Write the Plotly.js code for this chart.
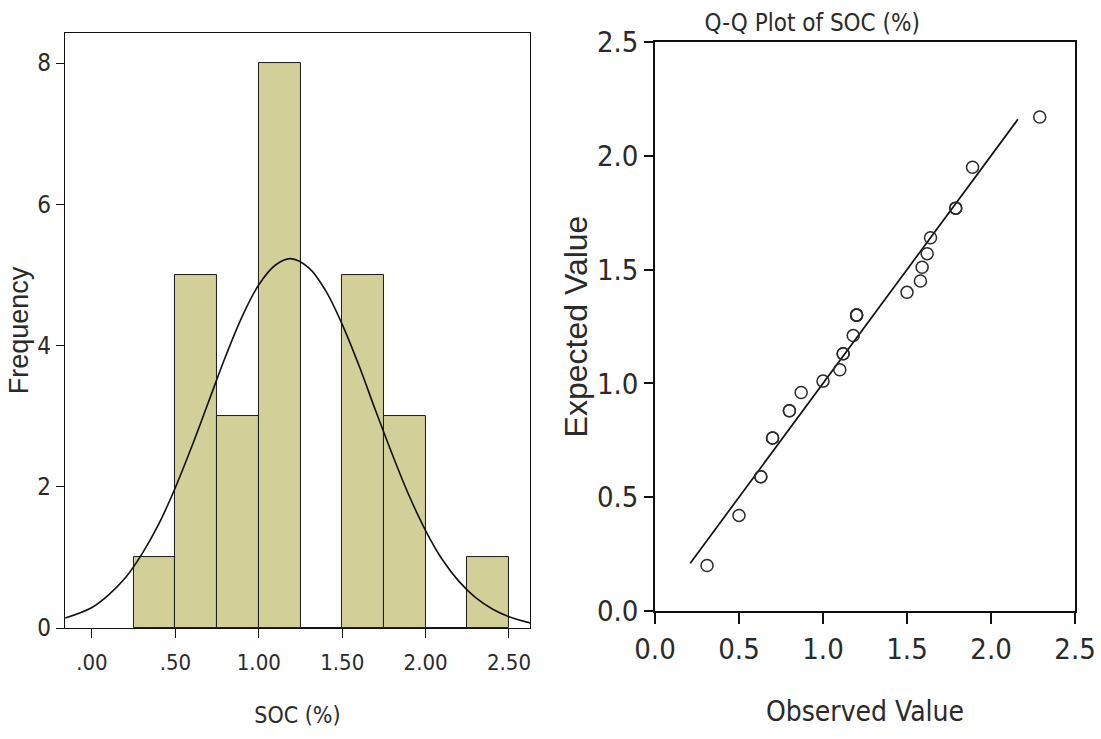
<!DOCTYPE html>
<html>
<head>
<meta charset="utf-8">
<script src="https://cdn.plot.ly/plotly-3.0.1.min.js"></script>
<style>
  html, body { margin: 0; padding: 0; background: #ffffff; }
  #chart { width: 1101px; height: 739px; }
</style>
</head>
<body>
<div id="chart"></div>
<script>
// ---- Histogram of SOC (%) ----
var binCenters = [0.375, 0.625, 0.875, 1.125, 1.375, 1.625, 1.875, 2.125, 2.375];
var binCounts  = [1, 5, 3, 8, 0, 5, 3, 0, 1];
var histTickVals = [0, 0.5, 1.0, 1.5, 2.0, 2.5];
var histTickText = ['.00', '.50', '1.00', '1.50', '2.00', '2.50'];
var freqTickVals = [0, 2, 4, 6, 8];

// Normal curve overlay
var curveX = [-0.16, 0.0, 0.1, 0.2, 0.3, 0.4, 0.5, 0.6, 0.7, 0.8, 0.9, 1.0, 1.1, 1.19, 1.3, 1.4, 1.5, 1.6, 1.7, 1.8, 1.9, 2.0, 2.1, 2.2, 2.3, 2.4, 2.5, 2.63];
var curveY = [0.14, 0.29, 0.47, 0.71, 1.05, 1.47, 1.99, 2.58, 3.21, 3.84, 4.41, 4.86, 5.14, 5.23, 5.10, 4.78, 4.30, 3.72, 3.08, 2.46, 1.88, 1.38, 0.97, 0.66, 0.43, 0.27, 0.16, 0.07];

// ---- Q-Q Plot of SOC (%) ----
var observed = [0.31, 0.50, 0.63, 0.63, 0.70, 0.70, 0.80, 0.80, 0.87, 1.00, 1.10, 1.12, 1.12, 1.18, 1.20, 1.20, 1.20, 1.50, 1.58, 1.59, 1.62, 1.64, 1.79, 1.79, 1.89, 2.29];
var expected = [0.20, 0.42, 0.59, 0.59, 0.76, 0.76, 0.88, 0.88, 0.96, 1.01, 1.06, 1.13, 1.13, 1.21, 1.30, 1.30, 1.30, 1.40, 1.45, 1.51, 1.57, 1.64, 1.77, 1.77, 1.95, 2.17];
var refLineX = [0.21, 2.16];
var refLineY = [0.21, 2.16];
var qqTickVals = [0, 0.5, 1.0, 1.5, 2.0, 2.5];

var narrow = '"Liberation Sans Narrow", "DejaVu Sans Condensed", "Liberation Sans", Arial, sans-serif';
var regular = '"Liberation Sans", Arial, sans-serif';
var ink = '#2a2a2a';

var traces = [
  {
    type: 'bar', x: binCenters, y: binCounts, width: 0.25,
    marker: { color: '#d3cf98', line: { color: '#1a1a1a', width: 1 } },
    xaxis: 'x', yaxis: 'y', hoverinfo: 'x+y'
  },
  {
    type: 'scatter', mode: 'lines', x: curveX, y: curveY,
    line: { color: '#111111', width: 1.6, shape: 'spline', smoothing: 1 },
    xaxis: 'x', yaxis: 'y'
  },
  {
    type: 'scatter', mode: 'lines', x: refLineX, y: refLineY,
    line: { color: '#111111', width: 1.7 },
    xaxis: 'x2', yaxis: 'y2'
  },
  {
    type: 'scatter', mode: 'markers', x: observed, y: expected,
    marker: { symbol: 'circle-open', size: 12, color: '#2a2a2a', line: { width: 1.5, color: '#2a2a2a' } },
    xaxis: 'x2', yaxis: 'y2'
  }
];

var layout = {
  width: 1101, height: 739,
  margin: { l: 0, r: 0, t: 0, b: 0 },
  paper_bgcolor: '#ffffff', plot_bgcolor: '#ffffff',
  showlegend: false,
  bargap: 0,
  title: {
    text: 'Q-Q Plot of SOC (%)',
    font: { family: narrow, size: 24, color: ink },
    x: 0.7377, xref: 'paper', xanchor: 'center',
    y: 0.970, yref: 'paper', yanchor: 'middle'
  },
  xaxis: {
    domain: [0.0590, 0.4814], range: [-0.162, 2.626],
    tickvals: histTickVals, ticktext: histTickText,
    ticks: 'outside', ticklen: 9, tickwidth: 1.2, tickcolor: '#111',
    ticklabelstandoff: 5,
    showline: true, linecolor: '#111', linewidth: 1.2, mirror: true,
    showgrid: false, zeroline: false,
    tickfont: { family: narrow, size: 22, color: ink },
    title: { text: 'SOC (%)', font: { family: narrow, size: 23, color: ink }, standoff: 33 },
    fixedrange: true
  },
  yaxis: {
    domain: [0.1502, 0.9553], range: [0, 8.425],
    tickvals: freqTickVals,
    ticks: 'outside', ticklen: 8, tickwidth: 1.2, tickcolor: '#111',
    showline: true, linecolor: '#111', linewidth: 1.2, mirror: true,
    showgrid: false, zeroline: false,
    tickfont: { family: narrow, size: 24, color: ink },
    title: { text: 'Frequency', font: { family: regular, size: 27, color: ink }, standoff: 0 },
    fixedrange: true
  },
  xaxis2: {
    domain: [0.5949, 0.9764], range: [0, 2.5], anchor: 'y2',
    tickvals: qqTickVals, tickformat: '.1f',
    ticks: 'outside', ticklen: 11, tickwidth: 1.5, tickcolor: '#111',
    showline: true, linecolor: '#111', linewidth: 2, mirror: true,
    showgrid: false, zeroline: false,
    tickfont: { family: narrow, size: 29, color: ink },
    title: { text: 'Observed Value', font: { family: narrow, size: 28, color: ink }, standoff: 37 },
    fixedrange: true
  },
  yaxis2: {
    domain: [0.1732, 0.9432], range: [0, 2.5], anchor: 'x2',
    tickvals: qqTickVals, tickformat: '.1f',
    ticks: 'outside', ticklen: 9, tickwidth: 1.5, tickcolor: '#111',
    showline: true, linecolor: '#111', linewidth: 1.6, mirror: true,
    showgrid: false, zeroline: false,
    tickfont: { family: narrow, size: 29, color: ink },
    title: { text: 'Expected Value', font: { family: regular, size: 32, color: ink }, standoff: 0 },
    fixedrange: true
  }
};

Plotly.newPlot('chart', traces, layout, { displayModeBar: false, responsive: false });
</script>
</body>
</html>
